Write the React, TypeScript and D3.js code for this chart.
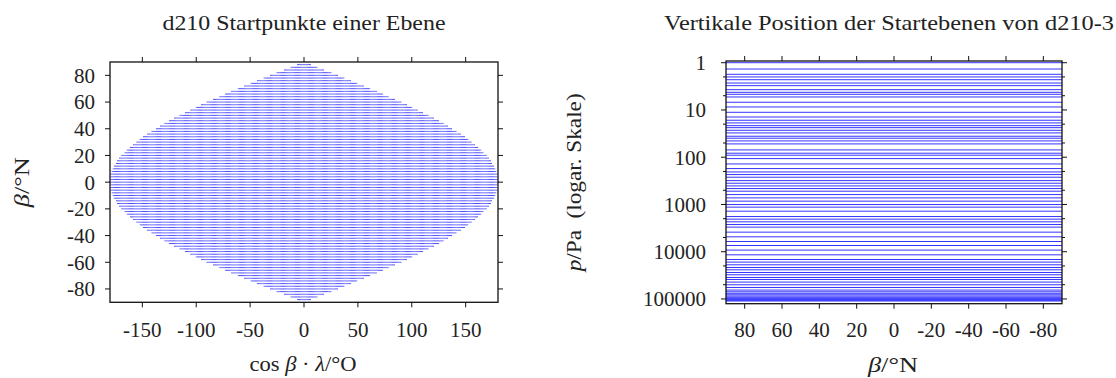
import React from "react";
import * as d3 from "d3";

const TITLE_LEFT = "d210 Startpunkte einer Ebene";
const TITLE_RIGHT = "Vertikale Position der Startebenen von d210-3";

// latitude rows of the start points (degrees N)
const LATITUDE_ROWS = [
  -88, -86, -84, -82, -80, -78, -76, -74, -72, -70, -68, -66, -64, -62, -60,
  -58, -56, -54, -52, -50, -48, -46, -44, -42, -40, -38, -36, -34, -32, -30,
  -28, -26, -24, -22, -20, -18, -16, -14, -12, -10, -8, -6, -4, -2, 0,
  2, 4, 6, 8, 10, 12, 14, 16, 18, 20, 22, 24, 26, 28, 30,
  32, 34, 36, 38, 40, 42, 44, 46, 48, 50, 52, 54, 56, 58, 60,
  62, 64, 66, 68, 70, 72, 74, 76, 78, 80, 82, 84, 86, 88,
];
// spacing of start points along each latitude circle (degrees, equal-area)
const POINT_SPACING = 1;

const LEFT_X_TICKS = [-150, -100, -50, 0, 50, 100, 150];
const LEFT_Y_TICKS = [-80, -60, -40, -20, 0, 20, 40, 60, 80];

// pressure of the start levels (Pa)
const PRESSURE_LEVELS = [
  1, 1.36, 1.76, 2.0, 2.29, 2.69, 3.06, 3.72, 4.23, 4.66, 5.31, 6.87, 8.64,
  11.2, 14.1, 16.5, 18.8, 21.5, 23.7, 26.9, 30.6, 36.0, 39.6, 45.2, 52.3,
  70.1, 82.3, 90.7, 107, 139, 174, 205, 233, 265, 313, 355, 405, 461, 524,
  618, 725, 851, 1005, 1140, 1387, 1803, 2046, 2333, 2660, 3020, 3855, 4842,
  6086, 7394, 9250, 11640, 14630, 16600, 18920, 21580, 24150, 27540, 30780,
  35080, 38700, 43950, 50100, 57150, 64860, 70470, 75860, 81530, 86880,
  92090, 97100, 101900, 106400, 110700,
];
const P_TICKS = [1, 10, 100, 1000, 10000, 100000];
const P_MINOR_TICKS = [2, 5, 20, 50, 200, 500, 2000, 5000, 20000, 50000];
const BETA_TICKS = [80, 60, 40, 20, 0, -20, -40, -60, -80];

const FONT = "'Liberation Serif', 'Times New Roman', serif";
const FS = 21;
const BLUE = "#0000ff";
const INK = "#222";

export default function App() {
  const L = { x0: 110, x1: 498, y0: 62, y1: 302.3 };
  const R = { x0: 726, x1: 1062, y0: 61, y1: 303.7 };

  const xL = d3.scaleLinear().domain([-180, 180]).range([L.x0, L.x1]);
  const yL = d3.scaleLinear().domain([-90, 90]).range([L.y1, L.y0]);
  const xR = d3.scaleLinear().domain([90, -90]).range([R.x0, R.x1]);
  const yR = d3.scaleLog().domain([0.92, 126000]).range([R.y0, R.y1]);

  const rowPaths = LATITUDE_ROWS.map((lat) => {
    const half = 180 * Math.cos((lat * Math.PI) / 180);
    const n = Math.floor(half / POINT_SPACING);
    const py = yL(lat);
    let d = "";
    for (let k = -n; k <= n; k++) {
      const px = xL(k * POINT_SPACING);
      d += `M${(px - 0.35).toFixed(2)},${py.toFixed(2)}h0.7`;
    }
    return { lat, d };
  });

  const tickLen = 5;
  const minorLen = 3;

  return (
    <svg
      width={1116}
      height={378}
      style={{ position: "absolute", left: 0, top: 0, background: "#fff" }}
      fontFamily={FONT}
    >
      <rect x={0} y={0} width={1116} height={378} fill="#fff" />
      {/* ---------- LEFT PLOT ---------- */}
      <text
        x={(L.x0 + L.x1) / 2}
        y={29.5}
        fontSize={FS}
        textAnchor="middle"
        fill={INK}
        textLength={283}
        lengthAdjust="spacingAndGlyphs"
      >
        {TITLE_LEFT}
      </text>
      <g>
        {rowPaths.map((r) => (
          <path key={r.lat} d={r.d} stroke={BLUE} strokeWidth={1} fill="none" />
        ))}
      </g>
      <rect
        x={L.x0}
        y={L.y0}
        width={L.x1 - L.x0}
        height={L.y1 - L.y0}
        fill="none"
        stroke="#111"
        strokeWidth={1.3}
      />
      {LEFT_X_TICKS.map((t) => (
        <g key={"lx" + t}>
          <line x1={xL(t)} x2={xL(t)} y1={L.y1} y2={L.y1 + tickLen} stroke="#111" strokeWidth={1} />
          <line x1={xL(t)} x2={xL(t)} y1={L.y0} y2={L.y0 - tickLen} stroke="#111" strokeWidth={1} />
          <text x={xL(t)} y={336.5} fontSize={FS} textAnchor="middle" fill={INK}>
            {String(t)}
          </text>
        </g>
      ))}
      {LEFT_Y_TICKS.map((t) => (
        <g key={"ly" + t}>
          <line x1={L.x0} x2={L.x0 - tickLen} y1={yL(t)} y2={yL(t)} stroke="#111" strokeWidth={1} />
          <line x1={L.x1} x2={L.x1 + tickLen} y1={yL(t)} y2={yL(t)} stroke="#111" strokeWidth={1} />
          <text x={95} y={yL(t)} dy="0.35em" fontSize={FS} textAnchor="end" fill={INK}>
            {String(t)}
          </text>
        </g>
      ))}
      <text
        x={303}
        y={371}
        fontSize={FS}
        textAnchor="middle"
        fill={INK}
        textLength={107}
        lengthAdjust="spacingAndGlyphs"
      >
        cos <tspan fontStyle="italic">β</tspan> · <tspan fontStyle="italic">λ</tspan>/°O
      </text>
      <text
        transform={`translate(29,${(L.y0 + L.y1) / 2}) rotate(-90)`}
        fontSize={FS}
        textAnchor="middle"
        fill={INK}
        textLength={50}
        lengthAdjust="spacingAndGlyphs"
      >
        <tspan fontStyle="italic">β</tspan>/°N
      </text>

      {/* ---------- RIGHT PLOT ---------- */}
      <text
        x={889}
        y={29.5}
        fontSize={FS}
        textAnchor="middle"
        fill={INK}
        textLength={450}
        lengthAdjust="spacingAndGlyphs"
      >
        {TITLE_RIGHT}
      </text>
      <g>
        {PRESSURE_LEVELS.map((p, i) => (
          <line
            key={"pl" + i}
            x1={xR(90)}
            x2={xR(-90)}
            y1={yR(p)}
            y2={yR(p)}
            stroke={BLUE}
            strokeOpacity={0.8}
            strokeWidth={1}
          />
        ))}
      </g>
      <rect
        x={R.x0}
        y={R.y0}
        width={R.x1 - R.x0}
        height={R.y1 - R.y0}
        fill="none"
        stroke="#111"
        strokeWidth={1.3}
      />
      {BETA_TICKS.map((t) => (
        <g key={"rx" + t}>
          <line x1={xR(t)} x2={xR(t)} y1={R.y1} y2={R.y1 + tickLen} stroke="#111" strokeWidth={1} />
          <line x1={xR(t)} x2={xR(t)} y1={R.y0} y2={R.y0 - tickLen} stroke="#111" strokeWidth={1} />
          <text x={xR(t)} y={337} fontSize={FS} textAnchor="middle" fill={INK}>
            {String(t)}
          </text>
        </g>
      ))}
      {P_TICKS.map((t) => (
        <g key={"ry" + t}>
          <line x1={R.x0} x2={R.x0 - tickLen} y1={yR(t)} y2={yR(t)} stroke="#111" strokeWidth={1} />
          <line x1={R.x1} x2={R.x1 + tickLen} y1={yR(t)} y2={yR(t)} stroke="#111" strokeWidth={1} />
          <text x={706} y={yR(t)} dy="0.35em" fontSize={FS} textAnchor="end" fill={INK}>
            {String(t)}
          </text>
        </g>
      ))}
      {P_MINOR_TICKS.map((t) => (
        <g key={"rm" + t}>
          <line x1={R.x0} x2={R.x0 - minorLen} y1={yR(t)} y2={yR(t)} stroke="#111" strokeWidth={1} />
          <line x1={R.x1} x2={R.x1 + minorLen} y1={yR(t)} y2={yR(t)} stroke="#111" strokeWidth={1} />
        </g>
      ))}
      <text
        x={893}
        y={372}
        fontSize={FS}
        textAnchor="middle"
        fill={INK}
        textLength={50}
        lengthAdjust="spacingAndGlyphs"
      >
        <tspan fontStyle="italic">β</tspan>/°N
      </text>
      <text
        transform={`translate(581,${(R.y0 + R.y1) / 2}) rotate(-90)`}
        fontSize={FS}
        textAnchor="middle"
        fill={INK}
        textLength={178}
        lengthAdjust="spacingAndGlyphs"
      >
        <tspan fontStyle="italic">p</tspan>/Pa{"\u00A0\u00A0"}(logar. Skale)
      </text>
    </svg>
  );
}
